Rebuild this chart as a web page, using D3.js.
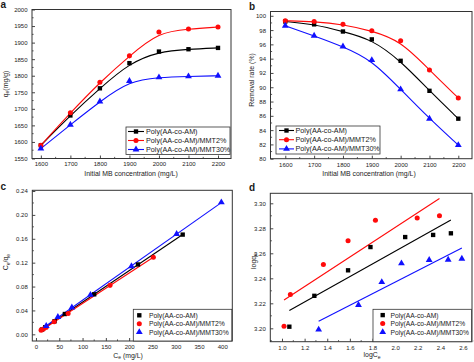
<!DOCTYPE html>
<html><head><meta charset="utf-8">
<script src="https://cdn.jsdelivr.net/npm/d3@7"></script>
<style>
body{margin:0;background:#fff}
svg{display:block}
text{font-family:"Liberation Sans",Arial,sans-serif;fill:#1a1a1a}
</style>
</head><body>
<svg id="chart" width="474" height="362"></svg>
<script>
// ---------- data ----------
const seriesNames = ["Poly(AA-co-AM)", "Poly(AA-co-AM)/MMT2%", "Poly(AA-co-AM)/MMT30%"];
const concentrations = [1600, 1700, 1800, 1900, 2000, 2100, 2200];
// panel a: qe (mg/g)
const qeBlack = [1590, 1680, 1762, 1838, 1873, 1880, 1884];
const qeRed   = [1590, 1688, 1780, 1860, 1932, 1941, 1947];
const qeBlue  = [1580, 1652, 1722, 1784, 1795, 1798, 1800];
// panel b: removal rate (%)
const rrBlack = [99.2, 98.8, 97.8, 96.7, 93.7, 89.5, 85.6];
const rrRed   = [99.3, 99.2, 98.8, 97.9, 96.5, 92.4, 88.5];
const rrBlue  = [98.6, 97.2, 95.7, 93.8, 89.7, 85.6, 81.9];
// panel c: Ce (mg/L) and Ce/qe
const ceBlack = [13, 20, 40, 62, 125, 219, 315];
const ratioBlack = [0.008, 0.012, 0.022, 0.034, 0.067, 0.117, 0.167];
const ceRed = [11, 16, 22, 39, 69, 159, 252];
const ratioRed = [0.007, 0.009, 0.012, 0.021, 0.035, 0.082, 0.129];
const ceBlue = [22, 47, 77, 117, 205, 302, 398];
const ratioBlue = [0.014, 0.029, 0.045, 0.066, 0.114, 0.168, 0.221];
// panel d: logCe and logqe
const logCeBlack = [1.065, 1.286, 1.584, 1.782, 2.089, 2.336, 2.493];
const logQeBlack = [3.2013, 3.2260, 3.2464, 3.2650, 3.2730, 3.2747, 3.2760];
const logCeRed = [1.018, 1.074, 1.366, 1.584, 1.826, 2.195, 2.392];
const logQeRed = [3.2016, 3.2270, 3.2510, 3.2700, 3.2864, 3.2883, 3.2901];
const logCeBlue = [1.324, 1.676, 1.882, 2.056, 2.301, 2.469, 2.590];
const logQeBlue = [3.1990, 3.2187, 3.2370, 3.2520, 3.2547, 3.2549, 3.2557];
// tick labels
const ticksConc = [1600, 1700, 1800, 1900, 2000, 2100, 2200];
const ticksQe = [1550, 1600, 1650, 1700, 1750, 1800, 1850, 1900, 1950, 2000];
const ticksRR = [80, 82, 84, 86, 88, 90, 92, 94, 96, 98, 100];
const ticksCe = [0, 50, 100, 150, 200, 250, 300, 350, 400];
const ticksRatio = [0.00, 0.04, 0.08, 0.12, 0.16, 0.20, 0.24];
const ticksLogCe = [1.0, 1.2, 1.4, 1.6, 1.8, 2.0, 2.2, 2.4, 2.6];
const ticksLogQe = [3.20, 3.22, 3.24, 3.26, 3.28, 3.30];

const colors = ["#000000", "#ff0a0a", "#1010ff"];
const shapes = ["square", "circle", "triangle"];

const svg = d3.select("#chart");

function symbolPath(shape) {
  if (shape === "square") return d3.symbol(d3.symbolSquare, 19)();
  if (shape === "circle") return d3.symbol(d3.symbolCircle, 20)();
  return d3.symbol(d3.symbolTriangle, 20)();
}

function linreg(xs, ys) {
  const mx = d3.mean(xs), my = d3.mean(ys);
  let sxy = 0, sxx = 0;
  xs.forEach((x, i) => { sxy += (x - mx) * (ys[i] - my); sxx += (x - mx) * (x - mx); });
  const k = sxy / sxx;
  return x => my + k * (x - mx);
}

function panel(o) {
  const g = svg.append("g");
  const x = d3.scaleLinear().domain(o.xd).range([o.l, o.r]);
  const y = d3.scaleLinear().domain(o.yd).range([o.b, o.t]);
  const minorX = d3.range(o.xMinor[0], o.xMinor[1] + 1e-9, o.xMinor[2]);
  const minorY = d3.range(o.yMinor[0], o.yMinor[1] + 1e-9, o.yMinor[2]);
  g.append("g").selectAll("line").data(minorX).join("line")
    .attr("x1", d => x(d)).attr("x2", d => x(d)).attr("y1", o.b).attr("y2", o.b - 1.6)
    .attr("stroke", "#333").attr("stroke-width", 0.8);
  g.append("g").selectAll("line").data(minorY).join("line")
    .attr("y1", d => y(d)).attr("y2", d => y(d)).attr("x1", o.l).attr("x2", o.l + 1.6)
    .attr("stroke", "#333").attr("stroke-width", 0.8);
  const ax = g.append("g").attr("transform", `translate(0,${o.b})`)
    .call(d3.axisBottom(x).tickValues(o.xTicks).tickSize(-3).tickPadding(3.6).tickFormat(o.xFmt));
  const ay = g.append("g").attr("transform", `translate(${o.l},0)`)
    .call(d3.axisLeft(y).tickValues(o.yTicks).tickSize(-3).tickPadding(4.5).tickFormat(o.yFmt));
  [ax, ay].forEach(a => {
    a.select(".domain").remove();
    a.selectAll("line").attr("stroke", "#333").attr("stroke-width", 0.9);
    a.selectAll("text").attr("font-size", "6px").attr("fill", "#1a1a1a")
      .attr("font-family", '"Liberation Sans",Arial,sans-serif');
  });
  g.append("rect").attr("x", o.l).attr("y", o.t).attr("width", o.r - o.l).attr("height", o.b - o.t)
    .attr("fill", "none").attr("stroke", "#333").attr("stroke-width", 1);
  const cid = "clip" + o.id;
  svg.append("clipPath").attr("id", cid).append("rect")
    .attr("x", o.l).attr("y", o.t).attr("width", o.r - o.l).attr("height", o.b - o.t);
  const plot = g.append("g").attr("clip-path", `url(#${cid})`);
  const marks = g.append("g");
  o.series.forEach((s, i) => {
    const pts = s.xs.map((xv, j) => [xv, s.ys[j]]);
    if (o.mode === "curve") {
      plot.append("path").datum(pts)
        .attr("d", d3.line().x(d => x(d[0])).y(d => y(d[1])).curve(d3.curveBasis))
        .attr("fill", "none").attr("stroke", colors[i]).attr("stroke-width", 1.1);
    } else {
      const f = linreg(s.xs, s.ys);
      const ext = d3.extent(s.xs);
      plot.append("path").datum(ext)
        .attr("d", d3.line().x(d => x(d)).y(d => y(f(d))))
        .attr("fill", "none").attr("stroke", colors[i]).attr("stroke-width", 1.1);
    }
  });
  o.series.forEach((s, i) => {
    marks.append("g").selectAll("path").data(s.xs).join("path")
      .attr("transform", (d, j) => `translate(${x(d)},${y(s.ys[j])})`)
      .attr("d", symbolPath(shapes[i])).attr("fill", colors[i]);
  });
  const L = o.legend;
  g.append("rect").attr("x", L.x).attr("y", L.y).attr("width", L.w).attr("height", L.h)
    .attr("fill", "#fff").attr("stroke", "#333").attr("stroke-width", 0.8);
  seriesNames.forEach((n, i) => {
    const yy = L.y + L.first + i * L.step;
    if (o.mode === "curve") {
      g.append("line").attr("x1", L.lx0).attr("x2", L.lx1).attr("y1", yy).attr("y2", yy)
        .attr("stroke", colors[i]).attr("stroke-width", 1.1);
    }
    g.append("path").attr("transform", `translate(${L.mx},${yy})`)
      .attr("d", symbolPath(shapes[i])).attr("fill", colors[i]);
    g.append("text").attr("x", L.tx).attr("y", yy + 2.4).attr("font-size", L.fs).text(n);
  });
  const xt = g.append("text").attr("x", o.xTitle.x).attr("y", o.xTitle.y)
    .attr("text-anchor", "middle").attr("font-size", "6.9px");
  o.xTitle.parts.forEach(p => xt.append("tspan").attr("font-size", p.sub ? "5px" : null)
    .attr("dy", p.sub ? 1.5 : (p.after ? -1.5 : null)).text(p.t));
  const yt = g.append("text").attr("transform", `translate(${o.yTitle.x},${o.yTitle.y}) rotate(-90)`)
    .attr("text-anchor", "middle").attr("font-size", "6.9px");
  o.yTitle.parts.forEach(p => yt.append("tspan").attr("font-size", p.sub ? "5px" : null)
    .attr("dy", p.sub ? 1.5 : (p.after ? -1.5 : null)).text(p.t));
  g.append("text").attr("x", o.letter.x).attr("y", o.letter.y).attr("font-size", "10px")
    .attr("font-weight", "bold").attr("fill", "#000").text(o.letter.t);
}

const concTitle = [{t: "Initial MB concentration (mg/L)"}];

panel({
  id: "a", l: 32, r: 231, t: 9.5, b: 158.5,
  xd: [1570, 2244], yd: [1550, 2000],
  xTicks: ticksConc, yTicks: ticksQe, xFmt: d3.format("d"), yFmt: d3.format("d"),
  xMinor: [1650, 2150, 100], yMinor: [1575, 1975, 50],
  mode: "curve",
  series: [{xs: concentrations, ys: qeBlack}, {xs: concentrations, ys: qeRed}, {xs: concentrations, ys: qeBlue}],
  legend: {x: 126, y: 127, w: 104, h: 27.5, first: 4.5, step: 9, lx0: 128, lx1: 144, mx: 136, tx: 146, fs: "7.2px"},
  xTitle: {x: 131, y: 175.5, parts: concTitle},
  yTitle: {x: 7.5, y: 84, parts: [{t: "q"}, {t: "e", sub: true}, {t: "(mg/g)", after: true}]},
  letter: {x: 0.5, y: 8, t: "a"}
});

panel({
  id: "b", l: 270.5, r: 472, t: 11.5, b: 158.7,
  xd: [1548.7, 2247.5], yd: [80, 100.6],
  xTicks: ticksConc, yTicks: ticksRR, xFmt: d3.format("d"), yFmt: d3.format("d"),
  xMinor: [1650, 2150, 100], yMinor: [81, 99, 2],
  mode: "curve",
  series: [{xs: concentrations, ys: rrBlack}, {xs: concentrations, ys: rrRed}, {xs: concentrations, ys: rrBlue}],
  legend: {x: 276, y: 126, w: 104, h: 28, first: 4.5, step: 9.2, lx0: 279, lx1: 294, mx: 286.5, tx: 295.5, fs: "7.2px"},
  xTitle: {x: 369, y: 176, parts: concTitle},
  yTitle: {x: 254, y: 80, parts: [{t: "Removal rate (%)"}]},
  letter: {x: 249, y: 9.5, t: "b"}
});

panel({
  id: "c", l: 32.3, r: 232.3, t: 190.3, b: 341,
  xd: [-7.9, 421.5], yd: [-0.0112, 0.2412],
  xTicks: ticksCe, yTicks: ticksRatio, xFmt: d3.format("d"), yFmt: d3.format(".2f"),
  xMinor: [25, 375, 50], yMinor: [0.02, 0.22, 0.04],
  mode: "fit",
  series: [{xs: ceBlack, ys: ratioBlack}, {xs: ceRed, ys: ratioRed}, {xs: ceBlue, ys: ratioBlue}],
  legend: {x: 133.3, y: 309.3, w: 98.5, h: 31.7, first: 6, step: 8.4, mx: 139.3, tx: 149, fs: "6.8px"},
  xTitle: {x: 128, y: 357.5, parts: [{t: "C"}, {t: "e", sub: true}, {t: " (mg/L)", after: true}]},
  yTitle: {x: 8, y: 262, parts: [{t: "C"}, {t: "e", sub: true}, {t: "/q", after: true}, {t: "e", sub: true}]},
  letter: {x: 0.5, y: 189.5, t: "c"}
});

panel({
  id: "d", l: 270.3, r: 472, t: 193.3, b: 341.7,
  xd: [0.8966, 2.6796], yd: [3.1893, 3.308],
  xTicks: ticksLogCe, yTicks: ticksLogQe, xFmt: d3.format(".1f"), yFmt: d3.format(".2f"),
  xMinor: [0.9, 2.7, 0.2], yMinor: [3.19, 3.30, 0.02],
  mode: "fit",
  series: [{xs: logCeBlack, ys: logQeBlack}, {xs: logCeRed, ys: logQeRed}, {xs: logCeBlue, ys: logQeBlue}],
  legend: {x: 373, y: 309.3, w: 98.5, h: 32.4, first: 5.8, step: 8.5, mx: 382.7, tx: 390.5, fs: "6.7px"},
  xTitle: {x: 372, y: 357, parts: [{t: "logC"}, {t: "e", sub: true}]},
  yTitle: {x: 255.5, y: 261, parts: [{t: "logq"}, {t: "e", sub: true}]},
  letter: {x: 249, y: 190.5, t: "d"}
});
</script>
</body></html>
